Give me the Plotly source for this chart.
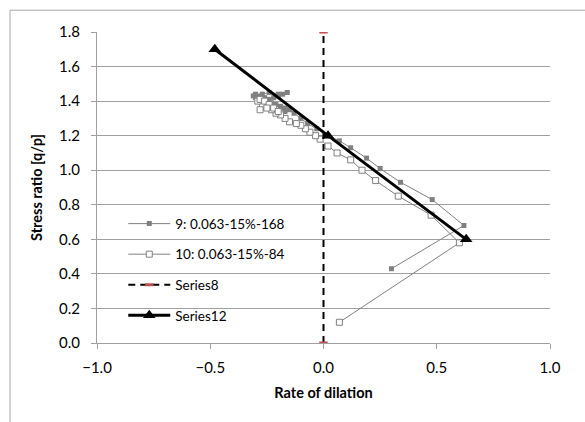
import plotly.graph_objects as go

# Series 9: 0.063-15%-168 (filled squares)
x9 = [0.30, 0.62, 0.48, 0.34, 0.25, 0.19, 0.12, 0.07, 0.02, -0.03, -0.07, -0.10, -0.13,
      -0.15, -0.17, -0.19, -0.21, -0.23, -0.25, -0.27, -0.29, -0.31, -0.30, -0.28, -0.26,
      -0.24, -0.22, -0.20, -0.18, -0.16, -0.20, -0.24, -0.27, -0.30, -0.28, -0.25, -0.22,
      -0.19, -0.17]
y9 = [0.43, 0.68, 0.83, 0.93, 1.01, 1.07, 1.13, 1.17, 1.20, 1.24, 1.27, 1.30, 1.33,
      1.35, 1.36, 1.37, 1.38, 1.39, 1.40, 1.41, 1.42, 1.43, 1.44, 1.43, 1.42,
      1.41, 1.42, 1.43, 1.44, 1.45, 1.44, 1.45, 1.44, 1.42, 1.40, 1.39, 1.38,
      1.36, 1.34]

# Series 10: 0.063-15%-84 (open squares)
x10 = [0.07, 0.60, 0.475, 0.33, 0.23, 0.17, 0.12, 0.06, 0.02, -0.015, -0.035, -0.06,
       -0.08, -0.10, -0.12, -0.15, -0.17, -0.19, -0.21, -0.23, -0.25, -0.27, -0.29,
       -0.28, -0.26, -0.24, -0.22, -0.20, -0.25, -0.28]
y10 = [0.12, 0.58, 0.74, 0.85, 0.94, 1.00, 1.06, 1.10, 1.14, 1.18, 1.20, 1.22,
       1.24, 1.26, 1.27, 1.28, 1.30, 1.32, 1.33, 1.35, 1.37, 1.38, 1.40,
       1.41, 1.40, 1.38, 1.36, 1.34, 1.36, 1.35]

# Series8: vertical dashed line at zero dilation
x8 = [0.0, 0.0]
y8 = [0.0, 1.8]

# Series12: trend line
x12 = [-0.48, 0.02, 0.63]
y12 = [1.70, 1.20, 0.60]

x_ticks = [-1.0, -0.5, 0.0, 0.5, 1.0]
y_ticks = [0.0, 0.2, 0.4, 0.6, 0.8, 1.0, 1.2, 1.4, 1.6, 1.8]

FONT = "Lato, 'Open Sans', sans-serif"
GRAY = "#808080"

fig = go.Figure()
fig.add_trace(go.Scatter(
    x=x9, y=y9, mode="lines+markers", name="9: 0.063-15%-168",
    line=dict(color=GRAY, width=1),
    marker=dict(symbol="square", size=5, color=GRAY),
    legendgroup="a"))
fig.add_trace(go.Scatter(
    x=x10, y=y10, mode="lines+markers", name="10: 0.063-15%-84",
    line=dict(color=GRAY, width=1),
    marker=dict(symbol="square", size=6, color="white", line=dict(color=GRAY, width=1)),
    legendgroup="b"))
fig.add_trace(go.Scatter(
    x=x8, y=y8, mode="lines+markers", name="Series8",
    line=dict(color="black", width=2, dash="7px,5px"),
    marker=dict(symbol="line-ew", size=6, color="#c0504d",
                line=dict(color="#c0504d", width=3)),
    legendgroup="c"))
fig.add_trace(go.Scatter(
    x=x12, y=y12, mode="lines+markers", name="Series12",
    line=dict(color="black", width=3),
    marker=dict(symbol="triangle-up", size=11, color="black"),
    legendgroup="d"))

fig.update_layout(
    width=585, height=422,
    margin=dict(l=97, r=35, t=32, b=79),
    paper_bgcolor="white", plot_bgcolor="white",
    font=dict(family=FONT, size=15, color="black"),
    showlegend=True,
    legend=dict(x=0.058, y=0.433, xanchor="left", yanchor="top",
                bgcolor="rgba(0,0,0,0)", font=dict(size=13.5),
                itemwidth=42, tracegroupgap=10),
    xaxis=dict(range=[-1, 1], tickvals=x_ticks, tickformat=".1f",
               showgrid=False, zeroline=False,
               showline=True, linecolor="#a0a0a0", linewidth=1,
               ticks="outside", ticklen=5, tickcolor="#a0a0a0",
               ticklabelstandoff=6, tickfont=dict(size=15),
               title=dict(text="<b>Rate of dilation</b>", font=dict(size=14.5), standoff=12)),
    yaxis=dict(range=[0, 1.8], tickvals=y_ticks, tickformat=".1f",
               showgrid=True, gridcolor="#a0a0a0", gridwidth=1, zeroline=False,
               showline=True, linecolor="#a0a0a0", linewidth=1,
               ticks="outside", ticklen=5, tickcolor="#a0a0a0",
               ticklabelstandoff=8, tickfont=dict(size=15),
               title=dict(text="<b>Stress ratio [q/p]</b>", font=dict(size=14.5), standoff=12)),
)

# outer chart-area border (top and left visible)
fig.add_shape(type="rect", xref="paper", yref="paper",
              x0=-0.192, x1=1.1, y0=-0.3, y1=1.07,
              line=dict(color="#a6a6a6", width=1), fillcolor="rgba(0,0,0,0)", layer="below")

fig.write_html("out.html")
